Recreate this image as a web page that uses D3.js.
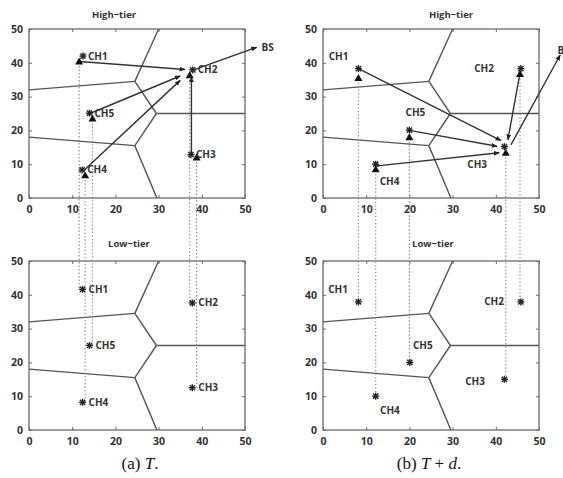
<!DOCTYPE html>
<meta charset='utf-8'>
<head>
    <title>High-tier / Low-tier</title>
    <script src='https://cdn.jsdelivr.net/npm/d3@7/dist/d3.min.js'></script>
</head>

<style>
    body { margin: 0; background: white; }
    .frame { fill: none; stroke: #6a6a6a; stroke-width: 1.3px; }
    .tick line { stroke: #6a6a6a; stroke-width: 1px; }
    .tick text, .title, .lab { font-family: 'Open Sans', sans-serif; font-weight: 700; fill: #333; }
    .tick text { font-size: 10.5px; }
    .title { font-size: 9.5px; }
    .lab { font-size: 10px; }
    .vor { fill: none; stroke: #555; stroke-width: 1.4px; }
    .dot { fill: none; stroke: #8a8a8a; stroke-width: 1.2px; stroke-dasharray: 1.3,2.2; }
    .arrow { fill: none; stroke: #333; stroke-width: 1.4px; }
    .star line { stroke: #222; stroke-width: 1.4px; }
    .tri { fill: #111; }
    .caption { font-family: 'Liberation Serif', 'DejaVu Serif', serif; font-size: 17px; fill: #111; }
</style>

<svg></svg>

<script>
    var vWidth = 563;
    var vHeight = 478;

    var ticks = [0, 10, 20, 30, 40, 50];
    var chNames = ['CH1', 'CH2', 'CH3', 'CH4', 'CH5'];

    // Voronoi partition (same in every panel)
    var voronoiEdges = [
        [[0, 32], [24.5, 34.5]],
        [[24.5, 34.5], [30, 50]],
        [[24.5, 34.5], [29.5, 25]],
        [[29.5, 25], [50, 25]],
        [[29.5, 25], [24.5, 15.5]],
        [[0, 18], [24.5, 15.5]],
        [[24.5, 15.5], [29.6, 0]]
    ];

    // (a) T
    var highStarA = [[12.5, 42], [37.9, 37.9], [37.5, 12.8], [12.3, 8.3], [14, 25.1]];
    var highTriA = [[11.6, 40.2], [37.2, 36.1], [38.8, 11.8], [13, 6.5], [14.7, 23.3]];
    var lowStarA = [[12.4, 41.6], [37.8, 37.6], [37.8, 12.5], [12.4, 8.2], [14, 25]];
    var arrowsA = [
        [[11.8, 40.4], [36.1, 38]],
        [[14.1, 25], [35, 36.1]],
        [[12.8, 8.3], [35, 34.8]],
        [[37.6, 12.5], [37.6, 35.8]],
        [[38.3, 38], [52.7, 44.6]]
    ];
    var bsA = [53.8, 44.4];

    // (b) T + d
    var highStarB = [[8.2, 38.3], [45.8, 38.3], [42, 15.2], [12.2, 10], [20, 20.1]];
    var highTriB = [[8.2, 35.3], [45.6, 36.5], [42.3, 13.2], [12.2, 8.3], [20, 17.8]];
    var lowStarB = [[8.2, 37.9], [45.8, 37.9], [42, 15], [12.2, 10], [20.1, 20]];
    var highLabelB = [[3.6, 41.8], [37.3, 38.3], [35.7, 10], [15.4, 4.8], [21.4, 25.2]];
    var lowLabelB = [[3.5, 41.6], [39.6, 37.9], [35.2, 14.3], [15.5, 5.7], [23.1, 25]];
    var arrowsB = [
        [[8.2, 38.3], [41.2, 17]],
        [[20, 20], [40.3, 15.3]],
        [[12.5, 9.5], [40.8, 13.4]],
        [[45.6, 37], [42.8, 17.2]],
        [[43.5, 15.7], [54.9, 42.3]]
    ];
    var bsB = [54.3, 42.6];

    var svg = d3.select('svg').attr('width', vWidth).attr('height', vHeight);

    svg.append('defs').append('marker')
        .attr('id', 'head')
        .attr('viewBox', '0 0 10 10')
        .attr('refX', 9).attr('refY', 5)
        .attr('markerWidth', 6).attr('markerHeight', 6)
        .attr('markerUnits', 'userSpaceOnUse')
        .attr('orient', 'auto')
        .append('path').attr('d', 'M0,1 L10,5 L0,9 Z').attr('fill', '#222');

    function makeScales(x0, x1, y0, y1) {
        return {
            x: d3.scaleLinear().domain([0, 50]).range([x0, x1]),
            y: d3.scaleLinear().domain([0, 50]).range([y1, y0])
        };
    }

    function drawFrame(s, title, titleX, titleY) {
        var g = svg.append('g');
        var xr = s.x.range(), yr = s.y.range();

        g.append('g').attr('transform', 'translate(0,' + yr[0] + ')')
            .call(d3.axisBottom(s.x).tickValues(ticks).tickSize(-3).tickPadding(8))
            .select('.domain').remove();
        g.append('g').attr('transform', 'translate(0,' + yr[1] + ')')
            .call(d3.axisTop(s.x).tickValues(ticks).tickSize(-3).tickFormat(''))
            .select('.domain').remove();
        g.append('g').attr('transform', 'translate(' + xr[0] + ',0)')
            .call(d3.axisLeft(s.y).tickValues(ticks).tickSize(-3).tickPadding(6))
            .select('.domain').remove();
        g.append('g').attr('transform', 'translate(' + xr[1] + ',0)')
            .call(d3.axisRight(s.y).tickValues(ticks).tickSize(-3).tickFormat(''))
            .select('.domain').remove();

        g.append('rect').attr('class', 'frame')
            .attr('x', xr[0]).attr('y', yr[1])
            .attr('width', xr[1] - xr[0]).attr('height', yr[0] - yr[1]);

        g.selectAll('.vor').data(voronoiEdges).enter().append('line')
            .attr('class', 'vor')
            .attr('x1', function(d) { return s.x(d[0][0]); })
            .attr('y1', function(d) { return s.y(d[0][1]); })
            .attr('x2', function(d) { return s.x(d[1][0]); })
            .attr('y2', function(d) { return s.y(d[1][1]); });

        svg.append('text').attr('class', 'title')
            .attr('x', titleX).attr('y', titleY)
            .attr('text-anchor', 'middle').text(title);
    }

    function drawStars(s, pts) {
        var r = 3.5;
        var g = svg.selectAll(null).data(pts).enter().append('g')
            .attr('class', 'star')
            .attr('transform', function(d) { return 'translate(' + s.x(d[0]) + ',' + s.y(d[1]) + ')'; });
        [[-r, 0, r, 0], [0, -r, 0, r], [-r * 0.75, -r * 0.75, r * 0.75, r * 0.75], [-r * 0.75, r * 0.75, r * 0.75, -r * 0.75]]
            .forEach(function(l) {
                g.append('line').attr('x1', l[0]).attr('y1', l[1]).attr('x2', l[2]).attr('y2', l[3]);
            });
    }

    function drawTris(s, pts) {
        svg.selectAll(null).data(pts).enter().append('path')
            .attr('class', 'tri')
            .attr('d', d3.symbol().type(d3.symbolTriangle).size(28))
            .attr('transform', function(d) { return 'translate(' + s.x(d[0]) + ',' + s.y(d[1]) + ')'; });
    }

    function drawArrows(s, arr) {
        svg.selectAll(null).data(arr).enter().append('line')
            .attr('class', 'arrow')
            .attr('marker-end', 'url(#head)')
            .attr('x1', function(d) { return s.x(d[0][0]); })
            .attr('y1', function(d) { return s.y(d[0][1]); })
            .attr('x2', function(d) { return s.x(d[1][0]); })
            .attr('y2', function(d) { return s.y(d[1][1]); });
    }

    function drawDots(sTop, sBot, tris, lows) {
        svg.selectAll(null).data(tris).enter().append('line')
            .attr('class', 'dot')
            .attr('x1', function(d) { return sTop.x(d[0]); })
            .attr('x2', function(d) { return sTop.x(d[0]); })
            .attr('y1', function(d) { return sTop.y(d[1]) + 4; })
            .attr('y2', function(d, i) { return sBot.y(lows[i][1]); });
    }

    function drawLabels(s, pts, dx, anchor) {
        svg.selectAll(null).data(pts).enter().append('text')
            .attr('class', 'lab')
            .attr('text-anchor', anchor)
            .attr('x', function(d) { return s.x(d[0]) + dx; })
            .attr('y', function(d) { return s.y(d[1]) + 3.5; })
            .text(function(d, i) { return chNames[i]; });
    }

    var aTop = makeScales(29, 245, 29, 198);
    var aBot = makeScales(29, 245, 261, 430);
    var bTop = makeScales(323, 539, 29, 198);
    var bBot = makeScales(323, 539, 261, 430);

    drawFrame(aTop, 'High\u2212tier', 114, 18);
    drawFrame(aBot, 'Low\u2212tier', 129, 247);
    drawFrame(bTop, 'High\u2212tier', 451, 18);
    drawFrame(bBot, 'Low\u2212tier', 433, 247);

    // (a)
    drawDots(aTop, aBot, highTriA, lowStarA);
    drawArrows(aTop, arrowsA);
    drawStars(aTop, highStarA);
    drawTris(aTop, highTriA);
    drawStars(aBot, lowStarA);
    drawLabels(aTop, highStarA, 5, 'start');
    drawLabels(aBot, lowStarA, 6, 'start');
    svg.append('text').attr('class', 'lab').attr('x', aTop.x(bsA[0])).attr('y', aTop.y(bsA[1]) + 3.5).text('BS');

    // (b)
    drawDots(bTop, bBot, highTriB, lowStarB);
    drawArrows(bTop, arrowsB);
    drawStars(bTop, highStarB);
    drawTris(bTop, highTriB);
    drawStars(bBot, lowStarB);
    drawLabels(bTop, highLabelB, 0, 'middle');
    drawLabels(bBot, lowLabelB, 0, 'middle');
    svg.append('text').attr('class', 'lab').attr('x', bTop.x(bsB[0])).attr('y', bTop.y(bsB[1])).text('BS');

    // captions
    var capA = svg.append('text').attr('class', 'caption').attr('x', 140).attr('y', 469).attr('text-anchor', 'middle');
    capA.append('tspan').text('(a) ');
    capA.append('tspan').attr('font-style', 'italic').text('T');
    capA.append('tspan').text('.');

    var capB = svg.append('text').attr('class', 'caption').attr('x', 429).attr('y', 469).attr('text-anchor', 'middle');
    capB.append('tspan').text('(b) ');
    capB.append('tspan').attr('font-style', 'italic').text('T');
    capB.append('tspan').text(' + ');
    capB.append('tspan').attr('font-style', 'italic').text('d');
    capB.append('tspan').text('.');
</script>
